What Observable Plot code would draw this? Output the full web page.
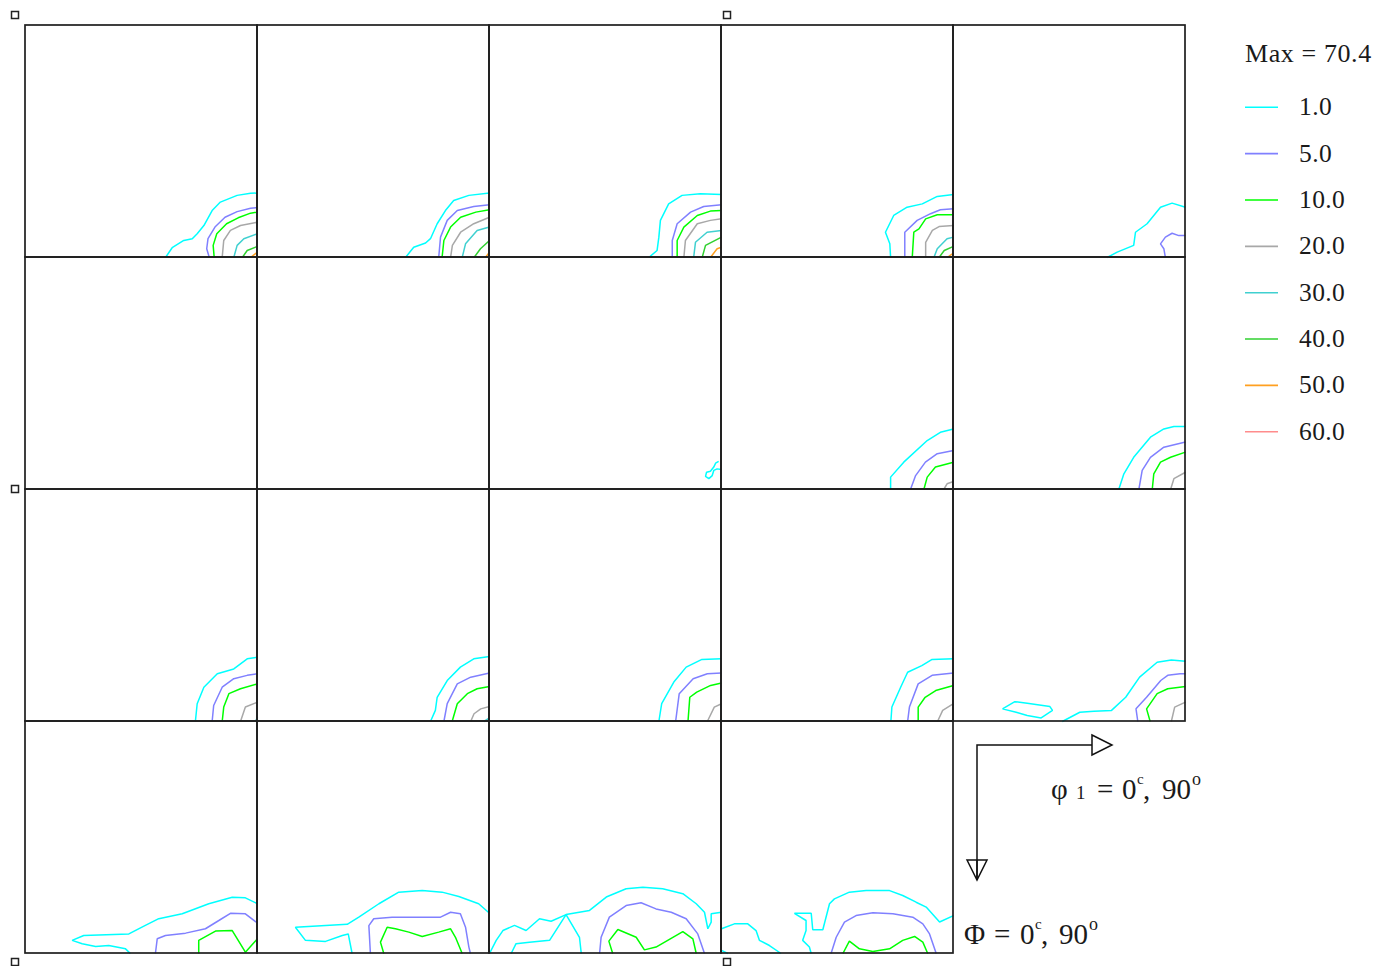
<!DOCTYPE html>
<html>
<head>
<meta charset="utf-8">
<script src="https://cdn.jsdelivr.net/npm/d3@7"></script>
<script src="https://cdn.jsdelivr.net/npm/@observablehq/plot@0.6"></script>
<style>
  html, body { margin: 0; padding: 0; background: #fff; }
  #wrap { position: relative; width: 1391px; height: 966px; overflow: hidden; }
  #wrap svg.overlay { position: absolute; left: 0; top: 0; pointer-events: none; }
</style>
</head>
<body>
<div id="wrap"></div>
<script>
// ---- Contour levels (legend) ----
const levels = [1, 5, 10, 20, 30, 40, 50, 60];
const levelLabels = ["1.0", "5.0", "10.0", "20.0", "30.0", "40.0", "50.0", "60.0"];
const levelColors = ["#00ffff", "#8080ff", "#00ff00", "#a8a8a8", "#40d0d0", "#30d030", "#ffa020", "#ff8c8c"];
const maxValue = "70.4";

// ---- Contour polylines per section: [level, [[phi1, Phi], ...]] in degrees (0..90) ----
const r0c0 = [
  [1, [[54.3,90],[56.9,86.2],[61.4,83.4],[64.7,82.7],[66.6,80.8],[69.2,77.6],[72.4,71.8],[75.6,68.5],[82.1,65.9],[87.3,65.1],[90,65]]],
  [5, [[71.3,90],[70.3,86.6],[70.8,82.7],[73.5,78.2],[77.4,74.4],[82.1,72.2],[87.3,70.9],[90,70.6]]],
  [10, [[73.2,90],[72.8,85.3],[74.2,80.8],[78,76.9],[82.5,74.6],[87.3,72.8],[90,72.4]]],
  [20, [[76.3,90],[76.9,83.4],[79.5,79.5],[83.4,77.6],[90,76.3]]],
  [30, [[80.8,90],[82.1,85.3],[84.7,82.7],[90,80.8]]],
  [40, [[84.1,90],[86,87.3],[90,85.7]]],
  [50, [[87.3,90],[90,87.9]]]
];
const r0c1 = [
  [1, [[57.4,90],[60.6,86.0],[65.2,84.4],[67.1,82.7],[69.7,76.9],[72.9,71.8],[76.1,67.9],[82.0,65.9],[90,65.0]]],
  [5, [[70.3,90],[71.0,82.1],[73.6,75.6],[77.5,71.8],[83.9,70.2],[90,69.5]]],
  [10, [[71.6,90],[72.3,83.4],[74.9,78.2],[78.8,74.4],[84.7,72.4],[90,71.5]]],
  [20, [[74.9,90],[75.6,85.3],[78.8,80.2],[83.9,76.9],[90,74.4]]],
  [30, [[79.4,90],[80.7,84.7],[85.2,79.5],[90,78.2]]],
  [40, [[84.0,90],[86.5,86.6],[90,83.4]]],
  [50, [[88.4,90],[90,87.9]]]
];
const r0c2 = [
  [1, [[61.8,90],[65.0,87.3],[65.7,82.1],[66.3,75.6],[69.5,69.2],[74.7,65.9],[81.8,65.3],[90,65.6]]],
  [5, [[70.9,90],[70.9,83.4],[72.8,76.9],[78.0,72.4],[83.1,70.2],[90,69.5]]],
  [10, [[72.8,90],[72.8,83.4],[75.4,78.2],[80.6,73.7],[85.7,72.0],[90,71.8]]],
  [20, [[75.4,90],[76.0,83.4],[80.6,76.9],[85.7,75.6],[90,75.0]]],
  [30, [[79.2,90],[79.9,84.1],[84.4,80.2],[90,79.5]]],
  [40, [[82.5,90],[83.8,85.3],[90,82.1]]],
  [50, [[85.7,90],[88.3,86.6],[90,86.0]]]
];
const r0c3 = [
  [1, [[65.6,90],[65.3,84.7],[63.6,80.2],[66.8,73.7],[72.0,70.5],[77.9,69.2],[83.7,66.3],[90,65.6]]],
  [5, [[71.1,90],[71.1,80.2],[75.9,75.6],[81.1,73.0],[84.9,71.5],[90,71.1]]],
  [10, [[74.0,90],[74.6,80.2],[76.6,78.9],[79.2,75.0],[83.7,73.4],[90,73.4]]],
  [20, [[79.2,90],[79.2,84.1],[81.8,79.5],[84.4,78.0],[90,77.6]]],
  [30, [[82.4,90],[83.7,86.6],[87.5,82.7],[90,82.1]]],
  [40, [[84.4,90],[86.4,87.3],[90,85.7]]],
  [50, [[87.5,90],[90,88.3]]]
];
const r0c4 = [
  [1, [[59.6,90],[63.5,87.9],[69.9,85.3],[70.6,80.2],[75.1,76.9],[80.3,70.5],[84.8,68.9],[90,70.5]]],
  [5, [[82.2,90],[81.6,86.6],[80.3,84.7],[82.2,82.1],[84.8,80.6],[87.4,81.5],[90,81.5]]]
];
const r1c0 = [];
const r1c1 = [];
const r1c2 = [
  [1, [[88.9,79.1],[87.7,79.8],[87.0,81.3],[85.7,82.9],[84.2,83.3],[83.8,84.9],[85.1,85.8],[86.4,84.6],[87.0,82.6],[88.3,82.0],[90,82.2]]]
];
const r1c3 = [
  [1, [[65.6,90],[65.6,85.2],[70.7,79.4],[79.8,71.0],[84.9,67.8],[90,66.5]]],
  [5, [[73.3,90],[75.3,84.6],[79.1,79.4],[83.7,76.1],[90,74.9]]],
  [10, [[78.5,90],[79.8,85.2],[83.0,81.3],[90,79.4]]],
  [20, [[86.2,90],[87.5,87.8],[90,86.9]]]
];
const r1c4 = [
  [1, [[64.1,90],[66.1,83.9],[69.9,77.5],[76.4,69.7],[81.6,66.5],[85.5,65.6],[90,65.6]]],
  [5, [[71.9,90],[73.2,82.6],[76.4,77.5],[81.6,73.6],[90,71.6]]],
  [10, [[77.1,90],[77.7,83.9],[80.3,79.4],[84.2,77.5],[90,75.5]]],
  [20, [[84.2,90],[85.5,85.8],[90,83.3]]]
];
const r2c0 = [
  [1, [[65.9,90],[66.6,83.1],[69.2,76.7],[74.4,71.5],[80.8,69.6],[86.0,65.7],[90,65.1]]],
  [5, [[72.4,90],[73.0,83.8],[76.3,76.7],[80.8,73.4],[86.0,72.1],[90,71.5]]],
  [10, [[76.3,90],[76.9,84.4],[78.9,79.2],[83.4,77.3],[90,75.4]]],
  [20, [[83.4,90],[85.3,84.4],[90,82.5]]],
  [30, [[89.2,90],[90,88.3]]]
];
const r2c1 = [
  [1, [[67.1,90],[69.0,85.7],[69.7,80.6],[73.6,74.1],[78.7,68.9],[83.9,65.7],[90,64.8]]],
  [5, [[72.3,90],[73.6,83.1],[77.5,75.4],[82.7,72.8],[90,71.2]]],
  [10, [[75.5,90],[77.5,83.1],[81.4,79.2],[85.2,77.3],[90,76.4]]],
  [20, [[82.7,90],[84.0,87.0],[86.6,85.1],[90,84.2]]],
  [30, [[87.8,90],[90,88.6]]]
];
const r2c2 = [
  [1, [[65.7,90],[66.8,83.1],[71.5,74.7],[76.3,68.9],[82.4,65.9],[90,65.7]]],
  [5, [[72.2,90],[73.6,79.2],[79.0,73.4],[84.5,71.5],[90,71.2]]],
  [10, [[77.0,90],[77.7,80.6],[80.4,78.6],[85.8,76.0],[90,75.1]]],
  [20, [[84.5,90],[87.2,84.4],[90,83.1]]],
  [30, [[89.3,90],[90,89]]]
];
const r2c3 = [
  [1, [[65.7,90],[66.1,84.4],[69.5,76.7],[72.2,70.9],[77.7,68.3],[81.7,65.9],[90,65.7]]],
  [5, [[72.2,90],[72.9,84.4],[76.3,75.4],[81.7,72.1],[90,71.2]]],
  [10, [[76.3,90],[76.3,84.4],[79.0,80.6],[83.1,78.0],[90,76.0]]],
  [20, [[83.8,90],[85.8,85.7],[90,83.1]]],
  [30, [[89.3,90],[90,89]]]
];
const r2c4 = [
  [1, [[42.2,90],[49.0,86.4],[54.5,86.0],[61.3,85.7],[66.8,80.6],[72.2,72.8],[79.0,67.0],[84.5,66.1],[90,66.6]]],
  [1, [[19.0,85.1],[23.8,82.3],[28.6,82.9],[37.4,84.2],[38.4,85.7],[34.0,88.6],[28.6,87.7],[24.3,86.4],[19.0,85.1]]],
  [5, [[71.5,90],[70.8,85.1],[74.9,80.6],[80.4,74.1],[83.1,72.1],[87.9,71.5],[90,71.5]]],
  [10, [[76.3,90],[74.9,85.1],[79.0,79.2],[83.1,77.3],[90,76.4]]],
  [20, [[84.5,90],[85.8,84.4],[90,82.5]]]
];
const r3c0 = [
  [1, [[40.7,90],[38.8,88.2],[32.3,86.9],[27.2,87.3],[22.0,86.2],[18.1,84.9],[22.6,83.0],[40.1,82.4],[46.5,79.1],[51.7,76.5],[60.8,74.6],[71.1,70.7],[80.2,68.2],[85.3,68.4],[90,70.7]]],
  [5, [[50.4,90],[51.1,84.3],[54.3,83.0],[62.1,82.1],[69.8,80.4],[75.0,77.2],[79.5,74.4],[85.3,74.6],[90,78.2]]],
  [10, [[67.2,90],[67.2,84.9],[73.7,81.3],[80.2,81.1],[85.3,89.5],[90,84.3]]]
];
const r3c1 = [
  [1, [[36.7,90],[35.2,82.4],[32.9,83.0],[26.4,85.3],[18.6,84.9],[14.7,79.8],[34.8,78.7],[39.3,75.9],[47.1,70.7],[54.8,66.2],[63.9,65.6],[71.6,66.2],[78.1,67.9],[85.8,70.7],[90,74.4]]],
  [5, [[43.8,90],[43.2,79.2],[45.1,76.5],[52.2,75.9],[71.0,75.9],[74.9,74.0],[78.7,74.6],[80.7,79.8],[82.0,87.5],[82.6,90]]],
  [10, [[49.0,90],[47.7,85.6],[50.3,79.8],[53.5,80.4],[58.7,81.7],[63.9,83.4],[70.3,81.7],[74.9,80.4],[76.8,83.7],[79.4,90]]]
];
const r3c2 = [
  [1, [[0,90],[2.6,84.9],[5.2,81.1],[9.7,79.1],[14.2,81.1],[19.4,76.5],[23.9,77.5],[29.7,74.9],[38.8,73.3],[45.3,68.1],[53.0,64.9],[59.5,64.3],[67.2,64.9],[75.0,66.8],[80.2,70.7],[83.4,74.0],[84.7,80.4],[86.0,77.8],[86.0,74.6],[90,74.0]]],
  [1, [[8.4,90],[10.3,86.2],[15.5,85.6],[23.3,84.9],[29.7,74.9],[34.9,83.7],[35.6,90]]],
  [5, [[42.7,90],[43.3,83.7],[46.5,75.9],[53.0,71.4],[58.8,70.3],[64.6,72.7],[70.5,74.0],[76.3,76.5],[80.8,82.4],[83.4,90]]],
  [10, [[47.8,90],[46.3,85.2],[49.8,80.7],[56.9,83.7],[60.1,88.6],[64.6,87.5],[75.0,81.5],[78.9,84.3],[80.2,90]]]
];
const r3c3 = [
  [1, [[0,80.4],[5.0,78.5],[10.2,78.5],[13.4,81.1],[14.7,84.9],[18.6,86.9],[23.1,90]]],
  [1, [[0,88.8],[2.5,90]]],
  [1, [[34.8,90],[34.1,87.5],[31.5,84.9],[32.8,81.1],[32.8,77.2],[28.3,74.4],[34.8,74.4],[35.4,80.8],[39.3,80.8],[41.9,70.7],[43.8,68.8],[49.6,66.2],[56.1,65.6],[65.2,65.6],[70.3,67.5],[75.5,70.1],[79.4,72.0],[84.6,77.8],[90,75.3]]],
  [5, [[42.5,90],[44.5,83.7],[47.7,77.8],[52.2,75.3],[58.7,74.2],[66.5,74.6],[74.2,75.9],[78.1,78.5],[80.7,82.4],[83.3,90]]],
  [10, [[47.1,90],[49.6,85.2],[53.5,88.2],[58.7,89.2],[65.2,88.2],[70.3,84.9],[74.9,83.4],[78.1,85.6],[80.0,90]]]
];

// section layout: [row, col, contours]
const sections = [
  [0,0,r0c0],[0,1,r0c1],[0,2,r0c2],[0,3,r0c3],[0,4,r0c4],
  [1,0,r1c0],[1,1,r1c1],[1,2,r1c2],[1,3,r1c3],[1,4,r1c4],
  [2,0,r2c0],[2,1,r2c1],[2,2,r2c2],[2,3,r2c3],[2,4,r2c4],
  [3,0,r3c0],[3,1,r3c1],[3,2,r3c2],[3,3,r3c3]
];

// ---- build tables for Plot ----
const SPAN = 90;
const contourRows = [];
sections.forEach(([row, col, lines]) => {
  lines.forEach(([level, pts], i) => {
    pts.forEach(([phi1, Phi]) => {
      contourRows.push({gx: col * SPAN + phi1, gy: row * SPAN + Phi, level, id: `${row}-${col}-${i}`});
    });
  });
});
const cells = sections.map(([row, col]) => ({x1: col * SPAN, x2: (col + 1) * SPAN, y1: row * SPAN, y2: (row + 1) * SPAN}));

const chart = Plot.plot({
  width: 1391,
  height: 966,
  marginLeft: 25,
  marginRight: 206,
  marginTop: 25,
  marginBottom: 13,
  x: {domain: [0, 5 * SPAN], axis: null},
  y: {domain: [0, 4 * SPAN], reverse: true, axis: null},
  color: {type: "ordinal", domain: levels, range: levelColors},
  style: {background: "#fff"},
  marks: [
    Plot.line(contourRows, {x: "gx", y: "gy", z: "id", stroke: "level", strokeWidth: 1.5, strokeLinejoin: "miter", strokeLinecap: "butt"}),
    Plot.rect(cells, {x1: "x1", x2: "x2", y1: "y1", y2: "y2", fill: "none", stroke: "#1e1e1e", strokeWidth: 1.7})
  ]
});
const wrap = document.getElementById("wrap");
wrap.appendChild(chart);

// ---- annotation overlay: legend, axis arrows, handles ----
const ov = d3.select(wrap).append("svg").attr("class", "overlay")
  .attr("width", 1391).attr("height", 966)
  .style("font-family", "'Liberation Serif', 'Times New Roman', serif");

ov.append("text").attr("x", 1245).attr("y", 62).attr("font-size", 26).attr("fill", "#1a1a1a")
  .attr("letter-spacing", 0.6)
  .text(`Max = ${maxValue}`);

const lg = ov.append("g");
levels.forEach((lv, i) => {
  const y = 107.3 + i * 46.35;
  lg.append("line").attr("x1", 1245).attr("x2", 1278).attr("y1", y).attr("y2", y)
    .attr("stroke", levelColors[i]).attr("stroke-width", 1.6);
  lg.append("text").attr("x", 1299).attr("y", y + 8).attr("font-size", 25.5).attr("fill", "#1a1a1a")
    .attr("letter-spacing", 0.4)
    .text(levelLabels[i]);
});

// arrows
const ar = ov.append("g").attr("stroke", "#111").attr("stroke-width", 1.5).attr("fill", "none");
ar.append("path").attr("d", "M977,880 V745 H1092");
ar.append("path").attr("d", "M1092,735 L1112,745 L1092,755 Z");
ar.append("path").attr("d", "M977,860 V880");
ar.append("path").attr("d", "M967,860 L977,880 L987,860 Z");

function axisLabel(parts, y) {
  const t = ov.append("text").attr("y", y).attr("font-size", 29).attr("fill", "#1a1a1a");
  parts.forEach(([x, str, size, dy]) => {
    t.append("tspan").attr("x", x).attr("y", y + (dy || 0)).attr("font-size", size || 29).text(str);
  });
}
axisLabel([[1051, "φ"], [1076, "1", 19], [1097, "="], [1122, "0"], [1137, "c", 15, -15], [1143, ","], [1162, "90"], [1192, "o", 18, -14]], 799);
axisLabel([[964, "Φ"], [994, "="], [1020, "0"], [1035, "c", 15, -15], [1041, ","], [1059, "90"], [1089, "o", 18, -14]], 944);

// selection handles
[[15,15],[727,15],[15,489],[15,962],[727,962]].forEach(([cx, cy]) => {
  ov.append("rect").attr("x", cx - 3.5).attr("y", cy - 3.5).attr("width", 7).attr("height", 7)
    .attr("fill", "#fff").attr("stroke", "#222").attr("stroke-width", 1.5);
});
</script>
</body>
</html>
